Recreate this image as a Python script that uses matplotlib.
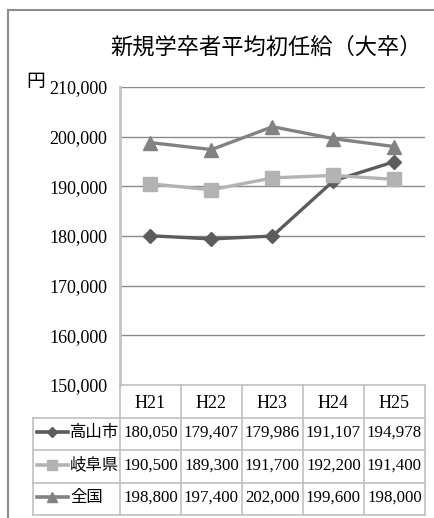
import matplotlib
matplotlib.use('Agg')
import matplotlib.pyplot as plt
from matplotlib.lines import Line2D
from matplotlib.ticker import FuncFormatter

# ---- data ----
categories = ['H21', 'H22', 'H23', 'H24', 'H25']
series_names = ['高山市', '岐阜県', '全国']
takayama = [180050, 179407, 179986, 191107, 194978]
gifu = [190500, 189300, 191700, 192200, 191400]
national = [198800, 197400, 202000, 199600, 198000]
y_ticks = [150000, 160000, 170000, 180000, 190000, 200000, 210000]
title = '新規学卒者平均初任給（大卒）'
unit = '円'

series = [takayama, gifu, national]
colors = ['#5c5c5c', '#b3b3b3', '#828282']
markers = ['D', 's', '^']
msizes = [7.5, 10, 10]

W, H = 435, 518
fig = plt.figure(figsize=(W / 100, H / 100), dpi=100)

def px(x0, y0, x1, y1):
    return [x0 / W, 1 - y1 / H, (x1 - x0) / W, (y1 - y0) / H]

SERIF = ['Liberation Serif', 'DejaVu Serif']
CJK = ['Noto Sans CJK JP', 'DejaVu Sans']

# ---- plot area ----
ax = fig.add_axes(px(120, 87, 425, 385))
x = list(range(len(categories)))
for vals, c, m, ms in zip(series, colors, markers, msizes):
    ax.plot(x, vals, color=c, lw=2.4, marker=m, ms=ms, mfc=c, mec=c, zorder=3)
ax.set_xlim(-0.5, len(categories) - 0.5)
ax.set_ylim(y_ticks[0], y_ticks[-1])
ax.set_yticks(y_ticks)
ax.yaxis.set_major_formatter(FuncFormatter(lambda v, p: f'{int(v):,}'))
ax.tick_params(axis='y', length=0, pad=9, labelsize=13)
for lab in ax.get_yticklabels():
    lab.set_fontfamily(SERIF)
ax.set_xticks([])
for s in ['top', 'right', 'bottom']:
    ax.spines[s].set_visible(False)
ax.spines['left'].set_color('#c4c4c4')
ax.spines['left'].set_linewidth(2)
ax.yaxis.grid(True, color='#8a8a8a', lw=1)
ax.set_axisbelow(True)
ax.yaxis.get_gridlines()[0].set_visible(False)

# ---- data table ----
tab = fig.add_axes(px(33, 385, 425, 515))
xl = -0.5 - 87 / 61
tab.set_xlim(xl, len(categories) - 0.5)
tab.set_ylim(len(series) + 1, 0)
tab.axis('off')
gc = '#c0c0c0'
nrow = len(series) + 1
tab.plot([-0.5, len(categories) - 0.5], [0, 0], color=gc, lw=1.2, clip_on=False)
for r in range(1, nrow + 1):
    tab.plot([xl, len(categories) - 0.5], [r, r], color=gc, lw=1.2, clip_on=False)
for cidx in range(len(categories) + 1):
    tab.plot([cidx - 0.5, cidx - 0.5], [0, nrow], color=gc, lw=1.2, clip_on=False)
tab.plot([xl, xl], [1, nrow], color=gc, lw=1.2, clip_on=False)

for i, cat in enumerate(categories):
    tab.text(i, 0.58, cat, ha='center', va='center', fontsize=13, family=SERIF)
k0 = xl + 4 / 61
k1 = xl + 35 / 61
for r, (name, vals, c, m, ms) in enumerate(zip(series_names, series, colors, markers, msizes)):
    yy = r + 1.45
    tab.plot([k0, k1], [yy, yy], color=c, lw=2.6, clip_on=False)
    tab.plot([(k0 + k1) / 2], [yy], color=c, marker=m, ms=ms * 0.7, mec=c, clip_on=False)
    tab.text(xl + 37 / 61, yy, name, ha='left', va='center', fontsize=11.8, family=CJK)
    for i, v in enumerate(vals):
        tab.text(i, yy + 0.02, f'{v:,}', ha='center', va='center', fontsize=12.2, family=SERIF)

# ---- title and unit ----
fig.text(266 / W, 1 - 47 / H, title, ha='center', va='center', fontsize=16, family=CJK)
fig.text(36 / W, 1 - 81 / H, unit, ha='center', va='center', fontsize=13.5, family=CJK)

# ---- outer frame (chart area border) ----
fig.add_artist(Line2D([8 / W, 8 / W], [0, 1 - 10 / H], color='#8c8c8c', lw=1.5,
                      transform=fig.transFigure))
fig.add_artist(Line2D([8 / W, 1], [1 - 10 / H, 1 - 10 / H], color='#8c8c8c', lw=1.5,
                      transform=fig.transFigure))

fig.savefig('out.png', dpi=100, facecolor='white')
